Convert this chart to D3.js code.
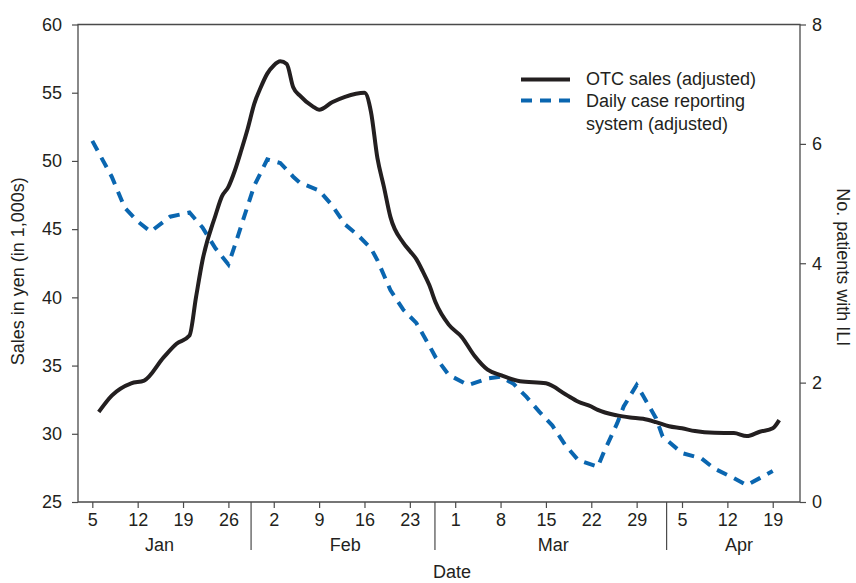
<!DOCTYPE html>
<html>
<head>
<meta charset="utf-8">
<script src="https://cdn.jsdelivr.net/npm/d3@7"></script>
<style>
body { margin: 0; background: #fff; }
svg text { font-family: "Liberation Sans", Arial, Helvetica, sans-serif; font-size: 18px; fill: #231f20; }
</style>
</head>
<body>
<svg id="chart"></svg>
<script>
// OTC sales (adjusted), 1,000s of yen - left axis
const otcDates = ["2004-01-06","2004-01-08","2004-01-11","2004-01-13","2004-01-16","2004-01-18","2004-01-20",
    "2004-01-21","2004-01-22","2004-01-24","2004-01-25","2004-01-26","2004-01-27","2004-01-28","2004-01-29",
    "2004-01-30","2004-01-31","2004-02-01","2004-02-02","2004-02-03","2004-02-04","2004-02-05","2004-02-06",
    "2004-02-08","2004-02-09","2004-02-11","2004-02-13","2004-02-16","2004-02-17","2004-02-18","2004-02-19",
    "2004-02-20","2004-02-22","2004-02-23","2004-02-24","2004-02-25","2004-02-26","2004-02-27","2004-02-29",
    "2004-03-02","2004-03-04","2004-03-06","2004-03-08","2004-03-11","2004-03-15","2004-03-18","2004-03-20",
    "2004-03-22","2004-03-23","2004-03-26","2004-03-28","2004-03-30","2004-04-01","2004-04-03","2004-04-05",
    "2004-04-07","2004-04-10","2004-04-13","2004-04-15","2004-04-17","2004-04-19","2004-04-20"];
const otcValues = [31.6, 32.8, 33.7, 33.9, 35.6, 36.6, 37.2,
    40.0, 42.7, 46.0, 47.4, 48.1, 49.3, 50.8, 52.4,
    54.2, 55.4, 56.4, 57.0, 57.3, 57.1, 55.4, 54.8,
    54.0, 53.75, 54.3, 54.7, 55.0, 53.6, 50.2, 48.1,
    45.9, 44.0, 43.4, 42.8, 41.9, 40.9, 39.6, 38.0,
    37.1, 35.7, 34.7, 34.3, 33.85, 33.7, 32.9, 32.35,
    32.0, 31.75, 31.35, 31.2, 31.1, 30.85, 30.55, 30.4,
    30.2, 30.07, 30.05, 29.83, 30.15, 30.4, 31.0];

// Daily case reporting system (adjusted), no. patients with ILI - right axis
const caseDates = ["2004-01-05","2004-01-08","2004-01-10","2004-01-12","2004-01-14","2004-01-17","2004-01-20",
    "2004-01-22","2004-01-24","2004-01-26","2004-01-27","2004-01-29","2004-01-30","2004-02-01","2004-02-03",
    "2004-02-05","2004-02-06","2004-02-09","2004-02-11","2004-02-13","2004-02-15","2004-02-17","2004-02-18",
    "2004-02-20","2004-02-22","2004-02-24","2004-02-26","2004-02-27","2004-02-29","2004-03-03","2004-03-06",
    "2004-03-08","2004-03-10","2004-03-12","2004-03-14","2004-03-16","2004-03-18","2004-03-20","2004-03-23",
    "2004-03-24","2004-03-26","2004-03-27","2004-03-29","2004-03-30","2004-04-01","2004-04-02","2004-04-05",
    "2004-04-08","2004-04-10","2004-04-13","2004-04-15","2004-04-17","2004-04-19"];
const caseValues = [6.05, 5.45, 4.93, 4.7, 4.53, 4.78, 4.85,
    4.6, 4.25, 3.98, 4.3, 4.97, 5.3, 5.74, 5.68,
    5.45, 5.35, 5.22, 4.97, 4.65, 4.47, 4.25, 4.05,
    3.55, 3.22, 3.0, 2.62, 2.42, 2.13, 1.96, 2.07,
    2.1, 1.98, 1.76, 1.51, 1.28, 0.95, 0.7, 0.59,
    0.85, 1.32, 1.6, 1.96, 1.78, 1.4, 1.1, 0.82,
    0.73, 0.56, 0.4, 0.28, 0.4, 0.52];

// axes
const leftTicks = [25, 30, 35, 40, 45, 50, 55, 60];
const rightTicks = [0, 2, 4, 6, 8];
const weekTicks = ["2004-01-05","2004-01-12","2004-01-19","2004-01-26","2004-02-02","2004-02-09","2004-02-16",
    "2004-02-23","2004-03-01","2004-03-08","2004-03-15","2004-03-22","2004-03-29","2004-04-05","2004-04-12","2004-04-19"];
const monthNames = ["Jan", "Feb", "Mar", "Apr"];
const monthLabelAt = ["2004-01-15 09:00", "2004-02-13 01:00", "2004-03-16 03:00", "2004-04-13 19:00"];
const monthBreaks = ["2004-01-29 12:00", "2004-02-26 21:00", "2004-04-02 15:00"];
const xExtent = ["2004-01-02 19:00", "2004-04-23 05:00"];

const seriesNames = ["OTC sales (adjusted)", "Daily case reporting", "system (adjusted)"];

const parseDay = d3.timeParse("%Y-%m-%d");
const parseTime = d3.timeParse("%Y-%m-%d %H:%M");

let svgWidth = 856, svgHeight = 583;
let margin = {top: 24.5, right: 56, bottom: 81, left: 78};
let width = svgWidth - margin.left - margin.right,
    height = svgHeight - margin.top - margin.bottom;

let svg = d3.select("#chart")
    .attr("width", svgWidth)
    .attr("height", svgHeight);

let g = svg.append("g")
    .attr("transform", "translate(" + margin.left + "," + margin.top + ")");

let x = d3.scaleTime()
    .domain(xExtent.map(parseTime))
    .range([0, width]);
let yLeft = d3.scaleLinear().domain([25, 60]).range([height, 0]);
let yRight = d3.scaleLinear().domain([0, 8]).range([height, 0]);

const axisColor = "#4a4a4a";

// frame: top line, left / right / bottom axis lines
g.append("path")
    .attr("d", "M0," + height + "V0H" + width + "V" + height + "H0")
    .attr("fill", "none")
    .attr("stroke", axisColor)
    .attr("stroke-width", 1.3);

let ax = g.append("g")
    .call(d3.axisLeft(yLeft).tickValues(leftTicks).tickSize(6).tickPadding(10));
let ax2 = g.append("g")
    .attr("transform", "translate(" + width + ",0)")
    .call(d3.axisRight(yRight).tickValues(rightTicks).tickSize(6).tickPadding(6));
let ax3 = g.append("g")
    .attr("transform", "translate(0," + height + ")")
    .call(d3.axisBottom(x).tickValues(weekTicks.map(parseDay)).tickSize(6).tickPadding(5)
        .tickFormat(d3.timeFormat("%-d")));

[ax, ax2, ax3].forEach(function(a) {
    a.select(".domain").remove();
    a.attr("font-family", null).attr("font-size", null);
    a.selectAll(".tick line").attr("stroke", axisColor).attr("stroke-width", 1.2);
    a.selectAll(".tick text").attr("fill", null);
});

// month separators and labels
g.selectAll(".month-break")
    .data(monthBreaks)
    .enter()
    .append("line")
    .attr("x1", function(d) { return x(parseTime(d)); })
    .attr("x2", function(d) { return x(parseTime(d)); })
    .attr("y1", height)
    .attr("y2", height + 48)
    .attr("stroke", axisColor)
    .attr("stroke-width", 1.2);

g.selectAll(".month-label")
    .data(monthNames)
    .enter()
    .append("text")
    .attr("x", function(d, i) { return x(parseTime(monthLabelAt[i])); })
    .attr("y", height + 49)
    .attr("text-anchor", "middle")
    .text(function(d) { return d; });

g.append("text")
    .attr("x", x(parseTime("2004-02-29 12:00")))
    .attr("y", height + 76)
    .attr("text-anchor", "middle")
    .text("Date");

// axis titles
svg.append("text")
    .attr("transform", "translate(24," + (margin.top + height / 2 + 8) + ") rotate(-90)")
    .attr("text-anchor", "middle")
    .text("Sales in yen (in 1,000s)");

svg.append("text")
    .attr("transform", "translate(837," + (margin.top + height / 2 + 4) + ") rotate(90)")
    .attr("text-anchor", "middle")
    .text("No. patients with ILI");

// series
let otc = otcDates.map(function(d, i) { return {date: parseDay(d), value: otcValues[i]}; });
let cases = caseDates.map(function(d, i) { return {date: parseDay(d), value: caseValues[i]}; });

let caseLine = d3.line()
    .x(function(d) { return x(d.date); })
    .y(function(d) { return yRight(d.value); });

let otcLine = d3.line()
    .curve(d3.curveMonotoneX)
    .x(function(d) { return x(d.date); })
    .y(function(d) { return yLeft(d.value); });

g.append("path")
    .datum(cases)
    .attr("d", caseLine)
    .attr("fill", "none")
    .attr("stroke", "#0a66b0")
    .attr("stroke-width", 4)
    .attr("stroke-dasharray", "11,8");

g.append("path")
    .datum(otc)
    .attr("d", otcLine)
    .attr("fill", "none")
    .attr("stroke", "#231f20")
    .attr("stroke-width", 4)
    .attr("stroke-linejoin", "round");

// legend
let legend = svg.append("g");
legend.append("line")
    .attr("x1", 521).attr("x2", 570)
    .attr("y1", 79.5).attr("y2", 79.5)
    .attr("stroke", "#231f20")
    .attr("stroke-width", 4);
legend.append("line")
    .attr("x1", 521).attr("x2", 570)
    .attr("y1", 100.5).attr("y2", 100.5)
    .attr("stroke", "#0a66b0")
    .attr("stroke-width", 4)
    .attr("stroke-dasharray", "11,8");
legend.selectAll(".legend-text")
    .data(seriesNames)
    .enter()
    .append("text")
    .attr("x", 586)
    .attr("y", function(d, i) { return [85, 107, 130][i]; })
    .text(function(d) { return d; });
</script>
</body>
</html>
